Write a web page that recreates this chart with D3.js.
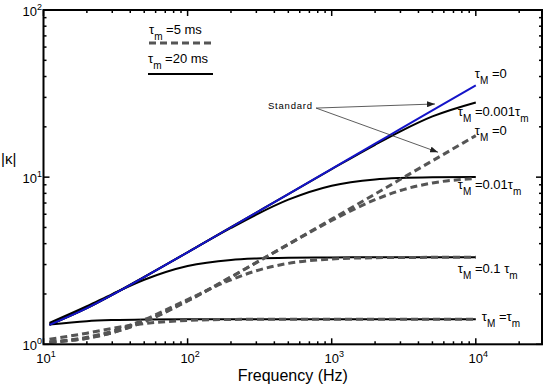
<!DOCTYPE html>
<html>
<head>
<meta charset="utf-8">
<script src="https://cdn.jsdelivr.net/npm/d3@7"></script>
<style>
  body { margin: 0; background: #fff; }
  svg { display: block; }
  text { font-family: "Liberation Sans", Arial, Helvetica, sans-serif; fill: #000; }
</style>
</head>
<body>
<svg width="545" height="386"></svg>
<script>
// frequencies (Hz) at which the curves were read
var freq = [11, 20, 30, 50, 100, 200, 300, 500, 1000, 2000, 3000, 5000, 10000];

// tau_m = 20 ms (solid)
var k20_M0     = [1.306, 1.645, 1.975, 2.522, 3.551, 5.015, 6.141, 7.927, 11.21, 15.85, 19.42, 25.07, 35.45];
var k20_M0001  = [1.307, 1.645, 1.976, 2.524, 3.552, 5.017, 6.142, 7.923, 11.17, 15.62, 18.79, 23.08, 27.99];
var k20_M001   = [1.310, 1.652, 1.983, 2.532, 3.554, 4.964, 5.970, 7.331, 8.890, 9.687, 9.881, 9.987, 10.03];
var k20_M01    = [1.343, 1.689, 1.998, 2.432, 2.938, 3.198, 3.261, 3.296, 3.311, 3.315, 3.316, 3.316, 3.317];
var k20_M1     = [1.313, 1.376, 1.396, 1.408, 1.413, 1.414, 1.414, 1.414, 1.414, 1.414, 1.414, 1.414, 1.414];

// tau_m = 5 ms (dashed)
var k5_M0      = [1.029, 1.087, 1.172, 1.365, 1.816, 2.522, 3.079, 3.967, 5.606, 7.927, 9.708, 12.53, 17.72];
var k5_M001    = [1.029, 1.088, 1.175, 1.369, 1.824, 2.532, 3.087, 3.963, 5.503, 7.331, 8.323, 9.230, 9.810];
var k5_M01     = [1.034, 1.101, 1.198, 1.404, 1.853, 2.432, 2.753, 3.049, 3.238, 3.296, 3.307, 3.313, 3.316];
var k5_M1      = [1.072, 1.166, 1.246, 1.331, 1.389, 1.408, 1.411, 1.413, 1.414, 1.414, 1.414, 1.414, 1.414];

var xMajor = [10, 100, 1000, 10000];
var yMajor = [1, 10, 100];

var svg = d3.select("svg");
var pLeft = 43.5, pRight = 542, pTop = 10, pBottom = 344.3;

var x = d3.scaleLog().domain([10, 28800]).range([pLeft, pRight]);
var y = d3.scaleLog().domain([1, 100]).range([pBottom, pTop]);

function isMajor(d) {
    var l = Math.log10(d);
    return Math.abs(l - Math.round(l)) < 1e-6;
}

var line = d3.line()
    .x(function(d) { return x(d[0]); })
    .y(function(d) { return y(d[1]); })
    .curve(d3.curveMonotoneX);

function pts(vals) { return freq.map(function(f, i) { return [f, vals[i]]; }); }

var plot = svg.append("g");

// solid black (20 ms)
[k20_M0001, k20_M001, k20_M01, k20_M1].forEach(function(v) {
    plot.append("path")
        .attr("d", line(pts(v)))
        .attr("fill", "none")
        .attr("stroke", "#000")
        .attr("stroke-width", 2);
});
// blue tau_M = 0
plot.append("path")
    .attr("d", line(pts(k20_M0)))
    .attr("fill", "none")
    .attr("stroke", "#1414c8")
    .attr("stroke-width", 2);
// dashed grey (5 ms)
[k5_M0, k5_M001, k5_M01, k5_M1].forEach(function(v) {
    plot.append("path")
        .attr("d", line(pts(v)))
        .attr("fill", "none")
        .attr("stroke", "#555")
        .attr("stroke-width", 3)
        .attr("stroke-dasharray", "7,4");
});

// frame
svg.append("rect")
    .attr("x", pLeft).attr("y", pTop)
    .attr("width", pRight - pLeft).attr("height", pBottom - pTop)
    .attr("fill", "none").attr("stroke", "#000").attr("stroke-width", 2);

// inward ticks
var tk = svg.append("g").attr("stroke", "#000").attr("stroke-width", 1.5);
x.ticks().forEach(function(t) {
    var len = isMajor(t) ? 6 : 3;
    tk.append("line").attr("x1", x(t)).attr("x2", x(t)).attr("y1", pBottom).attr("y2", pBottom - len);
    tk.append("line").attr("x1", x(t)).attr("x2", x(t)).attr("y1", pTop).attr("y2", pTop + len);
});
y.ticks().forEach(function(t) {
    var len = isMajor(t) ? 6 : 3;
    tk.append("line").attr("y1", y(t)).attr("y2", y(t)).attr("x1", pLeft).attr("x2", pLeft + len);
    tk.append("line").attr("y1", y(t)).attr("y2", y(t)).attr("x1", pRight).attr("x2", pRight - len);
});

// tick labels 10^n
xMajor.forEach(function(t) {
    var t1 = svg.append("text")
        .attr("x", x(t) - 7.2).attr("y", 363)
        .attr("font-size", 13);
    t1.append("tspan").text("10");
    t1.append("tspan").attr("font-size", 9).attr("dy", -6).text(Math.round(Math.log10(t)));
});
yMajor.forEach(function(t) {
    var t1 = svg.append("text")
        .attr("x", 42).attr("y", y(t) + 5.5)
        .attr("font-size", 13)
        .attr("text-anchor", "end");
    t1.append("tspan").text("10");
    t1.append("tspan").attr("font-size", 9).attr("dy", -6).text(Math.round(Math.log10(t)));
});

// axis titles
svg.append("text")
    .attr("x", (pLeft + pRight) / 2).attr("y", 381)
    .attr("text-anchor", "middle")
    .attr("font-size", 16)
    .text("Frequency (Hz)");
svg.append("text")
    .attr("x", 1).attr("y", 164)
    .attr("font-size", 15)
    .text("|\u03ba|");

// text with subscripts: parts = [[text, isSub], ...]
function subText(px, py, parts, size) {
    var t = svg.append("text").attr("x", px).attr("y", py).attr("font-size", size);
    var inSub = false;
    parts.forEach(function(p) {
        var s = t.append("tspan").text(p[0]);
        if (p[1] && !inSub) { s.attr("font-size", size - 3).attr("dy", 6); inSub = true; }
        else if (!p[1] && inSub) { s.attr("dy", -6); inSub = false; }
    });
    return t;
}

// legend
subText(149, 34, [["\u03c4"], ["m", 1], [" =5 ms"]], 13);
svg.append("line")
    .attr("x1", 149).attr("x2", 212).attr("y1", 43).attr("y2", 43)
    .attr("stroke", "#555").attr("stroke-width", 3).attr("stroke-dasharray", "7,4");
subText(148, 63, [["\u03c4"], ["m", 1], [" =20 ms"]], 13);
svg.append("line")
    .attr("x1", 148).attr("x2", 213).attr("y1", 74).attr("y2", 74)
    .attr("stroke", "#000").attr("stroke-width", 2);

// curve labels (dx from the 10^4 end, kappa for baseline)
var curveLabels = [
    {dx: -1,  k: 39.2, parts: [["\u03c4"], ["M", 1], [" =0"]]},
    {dx: -18, k: 23.2, parts: [["\u03c4"], ["M", 1], [" =0.001\u03c4"], ["m", 1]]},
    {dx: -1,  k: 17.9, parts: [["\u03c4"], ["M", 1], [" =0"]]},
    {dx: -18, k: 8.5,  parts: [["\u03c4"], ["M", 1], [" =0.01\u03c4"], ["m", 1]]},
    {dx: -18, k: 2.67, parts: [["\u03c4"], ["M", 1], [" =0.1 \u03c4"], ["m", 1]]},
    {dx: 6,   k: 1.38, parts: [["\u03c4"], ["M", 1], [" =\u03c4"], ["m", 1]]}
];
curveLabels.forEach(function(l) {
    subText(x(10000) + l.dx, y(l.k), l.parts, 13);
});

// "Standard" with two arrows
svg.append("defs").append("marker")
    .attr("id", "ah").attr("viewBox", "0 0 8 6")
    .attr("refX", 8).attr("refY", 3)
    .attr("markerWidth", 8).attr("markerHeight", 6)
    .attr("markerUnits", "userSpaceOnUse")
    .attr("orient", "auto")
    .append("path").attr("d", "M0,0L8,3L0,6Z").attr("fill", "#222");

svg.append("text")
    .attr("x", x(361)).attr("y", y(25.6))
    .attr("font-size", 9.5).attr("letter-spacing", 0.8)
    .text("Standard");
var arrowFrom = [779, 25.9];
[[5210, 27.4], [5470, 14.1]].forEach(function(e) {
    svg.append("line")
        .attr("x1", x(arrowFrom[0])).attr("y1", y(arrowFrom[1]))
        .attr("x2", x(e[0])).attr("y2", y(e[1]))
        .attr("stroke", "#333").attr("stroke-width", 0.8)
        .attr("marker-end", "url(#ah)");
});
</script>
</body>
</html>
